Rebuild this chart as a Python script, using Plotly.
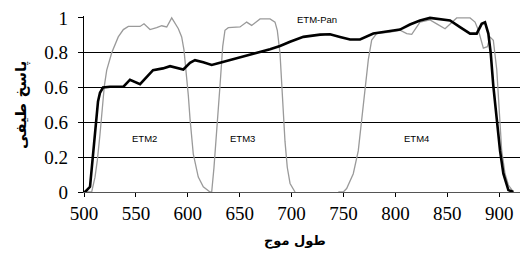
import plotly.graph_objects as go

# ETM-Pan (black)
pan_x = [500, 501, 505.8, 508.7, 512.5, 513.5, 515.4, 518.3, 525, 538, 544.3, 554, 566.5, 576, 582.9,
         595.7, 602.1, 606.9, 614.9, 623, 631, 647.1, 663.1, 679.2, 688.8, 698.5, 711.3, 727.4, 737,
         746.6, 756.3, 765.9, 778.7, 788.3, 804.4, 814, 823.7, 833.3, 843, 852.6, 862.2, 871.9, 878.3,
         883.1, 886.3, 889.5, 891.8, 894.3, 897.6, 900.8, 904, 908.8, 913.6]
pan_y = [0, 0, 0.03, 0.2, 0.42, 0.52, 0.57, 0.60, 0.605, 0.605, 0.645, 0.62, 0.70, 0.71, 0.723,
         0.704, 0.742, 0.757, 0.745, 0.730, 0.742, 0.770, 0.794, 0.820, 0.839, 0.863, 0.891, 0.904, 0.906,
         0.891, 0.876, 0.876, 0.910, 0.919, 0.933, 0.962, 0.985, 1.0, 0.994, 0.985, 0.947, 0.91, 0.91,
         0.966, 0.975, 0.910, 0.797, 0.61, 0.42, 0.236, 0.105, 0.011, 0]

# ETM2 (grey)
etm2_x = [501, 507.4, 510.6, 512.8, 515.4, 517.6, 519.6, 521.9, 526.7, 533, 537.9, 542.7, 554, 557.8,
          563.6, 570, 574.9, 579.7, 584.5, 590.9, 594.1, 596.3, 598.3, 600.5, 602.1, 605.3, 610.1, 614.9, 621.4]
etm2_y = [0, 0, 0.085, 0.18, 0.33, 0.48, 0.61, 0.70, 0.80, 0.891, 0.933, 0.951, 0.951, 0.966,
          0.933, 0.944, 0.955, 0.948, 1.0, 0.938, 0.891, 0.816, 0.704, 0.554, 0.423, 0.217, 0.086, 0.030, 0]

# ETM3 (grey)
etm3_x = [621.4, 623, 625.2, 627.8, 631, 633.6, 635.8, 639, 650.3, 656.7, 661.5, 669.6, 679.2, 684,
          686.2, 688.8, 691.4, 693.6, 695.8, 698.5, 703.3]
etm3_y = [0, 0, 0.14, 0.329, 0.61, 0.835, 0.929, 0.944, 0.948, 0.976, 0.957, 0.994, 0.994, 0.976,
          0.929, 0.798, 0.517, 0.292, 0.142, 0.049, 0]

# ETM4 (grey)
etm4_x = [745, 749.8, 753, 759.4, 764.2, 767.4, 770.7, 773.9, 777.1, 781.9, 794.8, 804.4, 810.9, 815.7,
          823.7, 833.3, 839.8, 847.8, 859, 871.9, 876.7, 879.9, 884.7, 888.6, 891.1, 894.3, 897.6,
          900.2, 902.4, 905.6, 908.8, 913.6]
etm4_y = [0, 0.0, 0.02, 0.105, 0.236, 0.423, 0.61, 0.76, 0.873, 0.91, 0.919, 0.929, 0.910, 0.906,
          0.976, 0.989, 0.966, 0.938, 1.0, 1.0, 0.976, 0.929, 0.826, 0.835, 0.891, 0.872, 0.704,
          0.423, 0.236, 0.105, 0.04, 0]

x_ticks = [500, 550, 600, 650, 700, 750, 800, 850, 900]
x_ticktext = ["500", "550", "600", "650", "700", "750", "800", "850", "900"]
y_ticks = [0, 0.2, 0.4, 0.6, 0.8, 1]
y_ticktext = ["0", "0.2", "0.6", "0.6", "0.8", "1"]
grid_vals = [0.2, 0.4, 0.6, 0.8]

band_labels = ["ETM2", "ETM3", "ETM4", "ETM-Pan"]
band_label_x = [558, 653, 820, 724]
band_label_y = [0.31, 0.31, 0.31, 0.99]

grey = "#9a9a9a"
fig = go.Figure()
for xs, ys in [(etm2_x, etm2_y), (etm3_x, etm3_y), (etm4_x, etm4_y)]:
    fig.add_trace(go.Scatter(x=xs, y=ys, mode="lines", line=dict(color=grey, width=1.3),
                             showlegend=False, hoverinfo="skip"))
fig.add_trace(go.Scatter(x=pan_x, y=pan_y, mode="lines", line=dict(color="black", width=2.6),
                         showlegend=False, hoverinfo="skip"))
# invisible trace on overlay axis so it is drawn
fig.add_trace(go.Scatter(x=[500], y=[0], yaxis="y2", mode="markers", marker=dict(opacity=0),
                         showlegend=False, hoverinfo="skip"))

for t, xx, yy in zip(band_labels, band_label_x, band_label_y):
    fig.add_annotation(x=xx, y=yy, text=t, showarrow=False,
                       font=dict(family="Liberation Sans", size=9.5, color="black"))

fig.add_annotation(xref="paper", yref="paper", x=(295 - 84) / 436, y=-(242 - 192) / 180,
                   xanchor="center", yanchor="middle",
                   text="<b>طول موج</b>", showarrow=False,
                   font=dict(family="DejaVu Sans", size=13, color="black"))
fig.add_annotation(xref="paper", yref="paper", x=-(84 - 22) / 436, y=(192 - 103) / 180,
                   xanchor="center", yanchor="middle",
                   text="<b>پاسخ طیفی</b>", showarrow=False, textangle=-90,
                   font=dict(family="DejaVu Sans", size=15, color="black"))

fig.update_layout(
    width=528, height=254,
    margin=dict(l=84, r=8, t=12, b=62),
    paper_bgcolor="white", plot_bgcolor="white",
    hovermode=False,
    xaxis=dict(range=[500, 920], tickvals=x_ticks, ticktext=x_ticktext, showgrid=False,
               zeroline=False, showline=True, linecolor="#555555", linewidth=1,
               ticks="outside", ticklen=4, tickcolor="black",
               tickfont=dict(family="Liberation Serif", size=19, color="black")),
    yaxis=dict(range=[0, 1.011], tickvals=grid_vals, showticklabels=False, showgrid=True,
               gridcolor="black", gridwidth=1, zeroline=False, showline=False, ticks=""),
    yaxis2=dict(range=[0, 1.011], overlaying="y", side="left", tickvals=y_ticks,
                ticktext=y_ticktext, showgrid=False, zeroline=False, showline=True,
                linecolor="black", linewidth=1.3, ticks="outside", ticklen=5, tickcolor="black",
                ticklabelstandoff=6,
                tickfont=dict(family="Liberation Serif", size=19, color="black")),
)

fig.write_html("out.html", config={"displayModeBar": False},
               post_script="document.body.style.margin='0';")
